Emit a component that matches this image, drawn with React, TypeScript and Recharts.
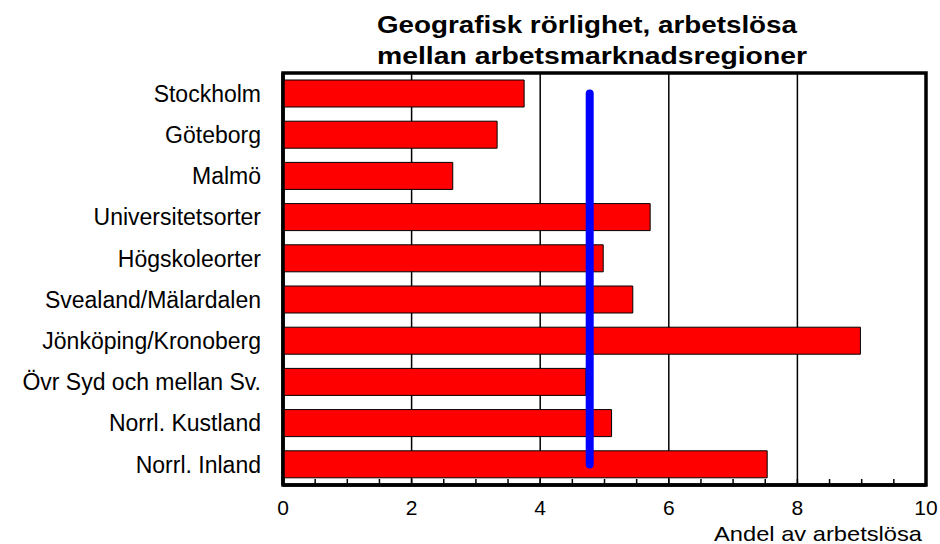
import React from 'react';
import { BarChart, Bar, XAxis, YAxis, CartesianGrid, ReferenceLine, ReferenceArea } from 'recharts';

const regions = [
  'Stockholm',
  'Göteborg',
  'Malmö',
  'Universitetsorter',
  'Högskoleorter',
  'Svealand/Mälardalen',
  'Jönköping/Kronoberg',
  'Övr Syd och mellan Sv.',
  'Norrl. Kustland',
  'Norrl. Inland',
];
const shares = [3.75, 3.33, 2.64, 5.71, 4.98, 5.44, 8.98, 4.71, 5.11, 7.53];
const average = 4.77;

const xTicks = [0, 0.5, 1, 1.5, 2, 2.5, 3, 3.5, 4, 4.5, 5, 5.5, 6, 6.5, 7, 7.5, 8, 8.5, 9, 9.5, 10];
const labelTicks = [0, 2, 4, 6, 8, 10];
const gridTicks = [2, 4, 6, 8];

const titleLines = ['Geografisk rörlighet, arbetslösa', 'mellan arbetsmarknadsregioner'];
const xAxisTitle = 'Andel av arbetslösa';

const rows = regions.map((region, i) => ({ region, share: shares[i] }));

export default function App() {
  return (
    <div style={{ position: 'absolute', left: 0, top: 0, width: 940, height: 544, background: '#fff', fontFamily: '"Liberation Sans", Arial, sans-serif' }}>
      <BarChart
        layout="vertical"
        width={940}
        height={544}
        data={rows}
        margin={{ top: 73, right: 14, bottom: 0, left: 0 }}
      >
        <CartesianGrid horizontal={false} verticalValues={gridTicks} stroke="#000" strokeWidth={1.5} />
        <XAxis
          type="number"
          domain={[0, 10]}
          ticks={xTicks}
          interval={0}
          height={59}
          tickFormatter={(v: number) => (labelTicks.includes(v) ? String(v) : '')}
          tickSize={-6}
          tickMargin={21}
          axisLine={{ stroke: '#000', strokeWidth: 3.5 }}
          tickLine={{ stroke: '#000', strokeWidth: 1.5 }}
          tick={{ fill: '#000', fontSize: 21 }}
        />
        <YAxis
          type="category"
          dataKey="region"
          width={283}
          interval={0}
          tickLine={false}
          tickSize={0}
          tickMargin={22}
          axisLine={{ stroke: '#000', strokeWidth: 3.5 }}
          tick={{ fill: '#000', fontSize: 23 }}
        />
        <Bar dataKey="share" fill="#ff0000" stroke="#000" strokeWidth={1} barSize={27} isAnimationActive={false} />
        <ReferenceLine
          segment={[{ x: average, y: regions[0] }, { x: average, y: regions[regions.length - 1] }]}
          stroke="#0000ff"
          strokeWidth={8}
          strokeLinecap="round"
        />
        <ReferenceArea x1={0} x2={10} fill="none" fillOpacity={0} stroke="#000" strokeWidth={3.5} ifOverflow="visible" />
      </BarChart>
      <svg width={940} height={544} style={{ position: 'absolute', left: 0, top: 0, pointerEvents: 'none' }}>
        <text x={377} y={33} fontSize={23} fontWeight="bold" fill="#000" textLength={420} lengthAdjust="spacingAndGlyphs">
          {titleLines[0]}
        </text>
        <text x={377} y={64} fontSize={23} fontWeight="bold" fill="#000" textLength={430} lengthAdjust="spacingAndGlyphs">
          {titleLines[1]}
        </text>
        <text x={922} y={541} fontSize={21} fill="#000" textAnchor="end" textLength={208} lengthAdjust="spacingAndGlyphs">
          {xAxisTitle}
        </text>
      </svg>
    </div>
  );
}
